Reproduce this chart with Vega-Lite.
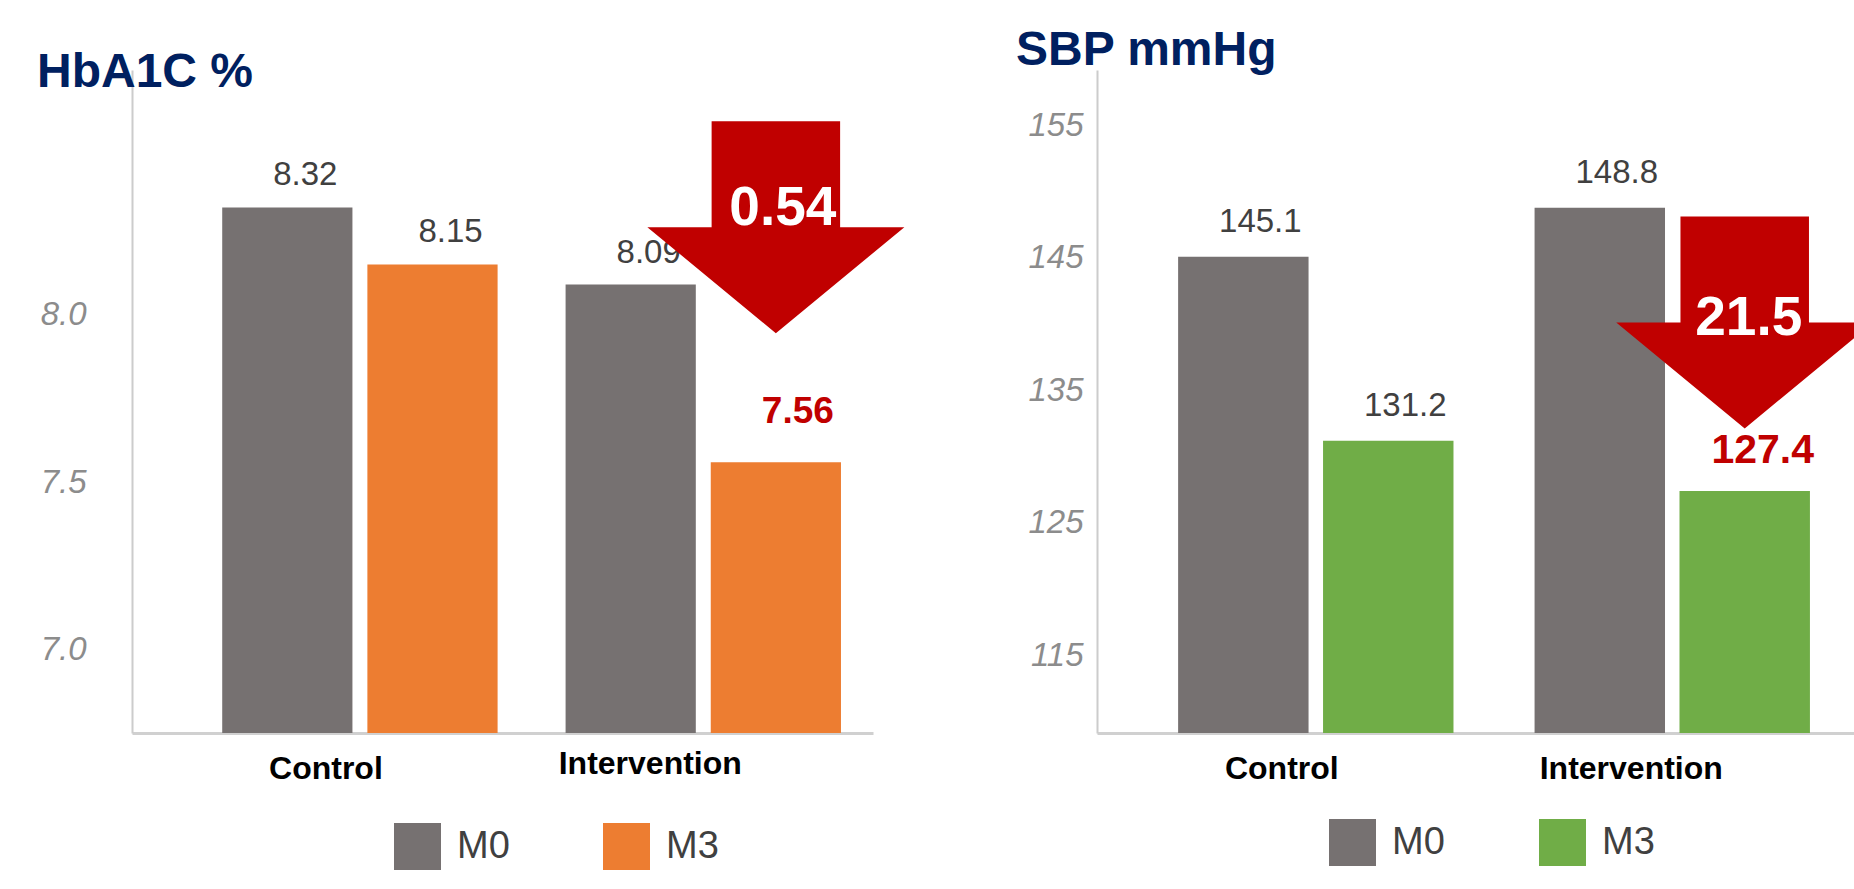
{
  "$schema": "https://vega.github.io/schema/vega-lite/v6.json",
  "padding": {"left": 37, "top": 27, "right": 0, "bottom": 0},
  "background": "white",
  "bounds": "flush",
  "spacing": 224,
  "config": {
    "view": {"stroke": null},
    "font": "Liberation Sans"
  },
  "resolve": {
    "scale": {"color": "independent", "y": "independent", "x": "independent", "xOffset": "independent"},
    "legend": {"color": "independent"},
    "axis": {"x": "independent", "y": "independent"}
  },
  "hconcat": [
    {
      "width": 741,
      "height": 663,
      "title": {"text": "HbA1C %", "anchor": "start", "frame": "group", "dx": -95, "dy": 65, "offset": 0, "baseline": "alphabetic", "fontSize": 48, "fontWeight": "bold", "color": "#002060"},
      "data": {"values": [
        {"group": "Control", "time": "M0", "value": 8.32},
        {"group": "Control", "time": "M3", "value": 8.15},
        {"group": "Intervention", "time": "M0", "value": 8.09},
        {"group": "Intervention", "time": "M3", "value": 7.56, "reduction": "0.54"}
      ]},
      "encoding": {
        "x": {"field": "group", "type": "nominal", "sort": ["Control", "Intervention"],
          "scale": {"paddingInner": 0.198, "paddingOuter": 0.178, "align": 0.738},
          "axis": {"title": null, "labelAngle": 0, "ticks": false, "domainColor": "#d0d0d0", "domainWidth": 3, "labelFontSize": 32, "labelFontWeight": "bold", "labelColor": "#000000",
            "labelPadding": {"condition": {"test": "datum.value == 'Control'", "value": 20}, "value": 15},
            "labelOffset": {"condition": {"test": "datum.value == 'Control'", "value": -34}, "value": -53},
            "labelLimit": 0}},
        "xOffset": {"field": "time", "type": "nominal", "sort": ["M0", "M3"], "scale": {"paddingInner": 0.103, "paddingOuter": 0}},
        "y": {"field": "value", "type": "quantitative",
          "scale": {"domain": [6.752, 8.73], "zero": false, "nice": false},
          "axis": {"title": null, "values": [7, 7.5, 8], "format": ".1f", "grid": false, "ticks": false, "domainColor": "#cccccc", "domainWidth": 2, "labelFontSize": 33, "labelFontStyle": "italic", "labelColor": "#8c8c8c", "labelPadding": 46}}
      },
      "layer": [
        {
          "mark": {"type": "bar"},
          "encoding": {
            "y2": {"datum": 6.752},
            "color": {"field": "time", "type": "nominal",
              "scale": {"domain": ["M0", "M3"], "range": ["#767171", "#ED7D31"]},
              "legend": {"orient": "none", "legendX": 262, "legendY": 753, "direction": "horizontal", "title": null, "symbolType": "square", "symbolSize": 2209, "symbolStrokeWidth": 0, "symbolOpacity": 1, "labelFontSize": 38, "labelColor": "#404040", "labelOffset": 16, "columnPadding": 93, "padding": 0}}
          }
        },
        {
          "transform": [{"filter": "!(datum.group == 'Intervention' && datum.time == 'M3')"}],
          "mark": {"type": "text", "fontSize": 33, "color": "#404040", "dx": 18, "dy": -22, "baseline": "alphabetic", "align": "center"},
          "encoding": {"text": {"field": "value", "type": "quantitative", "format": ".2f"}}
        },
        {
          "transform": [{"filter": "datum.group == 'Intervention' && datum.time == 'M3'"}],
          "mark": {"type": "text", "fontSize": 37, "fontWeight": "bold", "color": "#C00000", "dx": 22, "dy": -39, "baseline": "alphabetic", "align": "center"},
          "encoding": {"text": {"field": "value", "type": "quantitative", "format": ".2f"}}
        },
        {
          "transform": [{"filter": "datum.group == 'Intervention' && datum.time == 'M3'"}],
          "mark": {"type": "point", "shape": "M -0.5 -0.825 L 0.5 -0.825 L 0.5 0 L 1 0 L 0 0.825 L -1 0 L -0.5 0 Z", "size": 66049, "filled": true, "color": "#C00000", "opacity": 1, "strokeWidth": 0},
          "encoding": {"y": {"datum": 8.261}}
        },
        {
          "transform": [{"filter": "datum.group == 'Intervention' && datum.time == 'M3'"}],
          "mark": {"type": "text", "fontSize": 55, "fontWeight": "bold", "color": "#ffffff", "dx": 7, "dy": -2, "baseline": "alphabetic", "align": "center"},
          "encoding": {"y": {"datum": 8.261}, "text": {"field": "reduction", "type": "nominal"}}
        }
      ]
    },
    {
      "width": 757,
      "height": 663,
      "title": {"text": "SBP mmHg", "anchor": "start", "frame": "group", "dx": -81, "dy": 43, "offset": 0, "baseline": "alphabetic", "fontSize": 48, "fontWeight": "bold", "color": "#002060"},
      "data": {"values": [
        {"group": "Control", "time": "M0", "value": 145.1},
        {"group": "Control", "time": "M3", "value": 131.2},
        {"group": "Intervention", "time": "M0", "value": 148.8},
        {"group": "Intervention", "time": "M3", "value": 127.4, "reduction": "21.5"}
      ]},
      "encoding": {
        "x": {"field": "group", "type": "nominal", "sort": ["Control", "Intervention"],
          "scale": {"paddingInner": 0.2275, "paddingOuter": 0.1756, "align": 0.648},
          "axis": {"title": null, "labelAngle": 0, "ticks": false, "domainColor": "#d0d0d0", "domainWidth": 3, "labelFontSize": 32, "labelFontWeight": "bold", "labelColor": "#000000", "labelPadding": 20,
            "labelOffset": {"condition": {"test": "datum.value == 'Control'", "value": -34}, "value": -41},
            "labelLimit": 0}},
        "xOffset": {"field": "time", "type": "nominal", "sort": ["M0", "M3"], "scale": {"paddingInner": 0.1, "paddingOuter": 0}},
        "y": {"field": "value", "type": "quantitative",
          "scale": {"domain": [109.12, 159.2], "zero": false, "nice": false},
          "axis": {"title": null, "values": [115, 125, 135, 145, 155], "format": "d", "grid": false, "ticks": false, "domainColor": "#cccccc", "domainWidth": 2, "labelFontSize": 33, "labelFontStyle": "italic", "labelColor": "#8c8c8c", "labelPadding": 14}}
      },
      "layer": [
        {
          "mark": {"type": "bar"},
          "encoding": {
            "y2": {"datum": 109.12},
            "color": {"field": "time", "type": "nominal",
              "scale": {"domain": ["M0", "M3"], "range": ["#767171", "#70AD47"]},
              "legend": {"orient": "none", "legendX": 232, "legendY": 749, "direction": "horizontal", "title": null, "symbolType": "square", "symbolSize": 2209, "symbolStrokeWidth": 0, "symbolOpacity": 1, "labelFontSize": 38, "labelColor": "#404040", "labelOffset": 16, "columnPadding": 94, "padding": 0}}
          }
        },
        {
          "transform": [{"filter": "!(datum.group == 'Intervention' && datum.time == 'M3')"}],
          "mark": {"type": "text", "fontSize": 33, "color": "#404040", "dx": 17, "dy": -25, "baseline": "alphabetic", "align": "center"},
          "encoding": {"text": {"field": "value", "type": "quantitative", "format": ".1f"}}
        },
        {
          "transform": [{"filter": "datum.group == 'Intervention' && datum.time == 'M3'"}],
          "mark": {"type": "point", "shape": "M -0.5 -0.825 L 0.5 -0.825 L 0.5 0 L 1 0 L 0 0.825 L -1 0 L -0.5 0 Z", "size": 66049, "filled": true, "color": "#C00000", "opacity": 1, "strokeWidth": 0},
          "encoding": {"y": {"datum": 140.13}}
        },
        {
          "transform": [{"filter": "datum.group == 'Intervention' && datum.time == 'M3'"}],
          "mark": {"type": "text", "fontSize": 41, "fontWeight": "bold", "color": "#C00000", "dx": 18, "dy": -28, "baseline": "alphabetic", "align": "center"},
          "encoding": {"text": {"field": "value", "type": "quantitative", "format": ".1f"}}
        },
        {
          "transform": [{"filter": "datum.group == 'Intervention' && datum.time == 'M3'"}],
          "mark": {"type": "text", "fontSize": 55, "fontWeight": "bold", "color": "#ffffff", "dx": 4, "dy": -5, "baseline": "alphabetic", "align": "center"},
          "encoding": {"y": {"datum": 138.8}, "text": {"field": "reduction", "type": "nominal"}}
        }
      ]
    }
  ]
}
